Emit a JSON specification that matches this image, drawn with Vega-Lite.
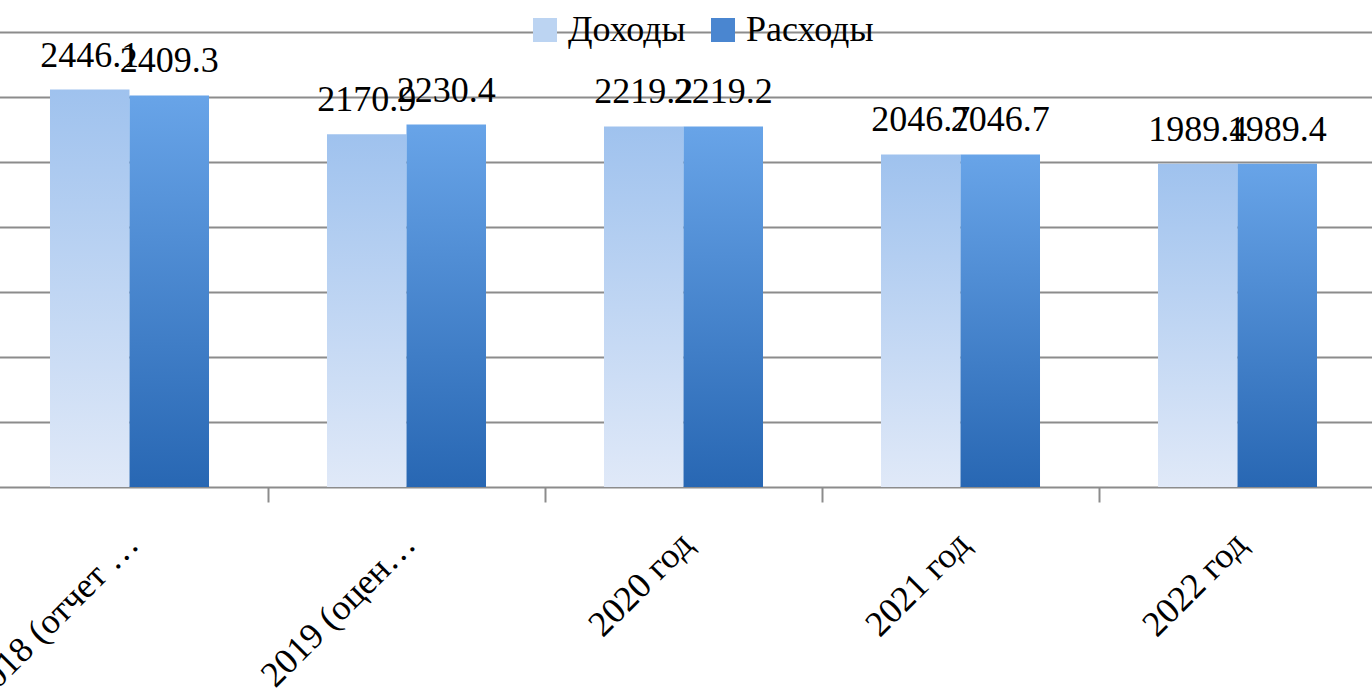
{
  "$schema": "https://vega.github.io/schema/vega-lite/v6.json",
  "autosize": {"type": "none"},
  "width": 1385,
  "height": 455,
  "padding": {"left": -9, "top": 32, "right": -4, "bottom": 206},
  "background": "white",
  "config": {
    "view": {"stroke": null},
    "font": "Liberation Serif"
  },
  "data": {
    "values": [
      {"cat": "2018 (отчет …", "series": "Доходы", "value": 2446.1},
      {"cat": "2018 (отчет …", "series": "Расходы", "value": 2409.3},
      {"cat": "2019  (оцен…", "series": "Доходы", "value": 2170.9},
      {"cat": "2019  (оцен…", "series": "Расходы", "value": 2230.4},
      {"cat": "2020 год", "series": "Доходы", "value": 2219.2},
      {"cat": "2020 год", "series": "Расходы", "value": 2219.2},
      {"cat": "2021 год", "series": "Доходы", "value": 2046.7},
      {"cat": "2021 год", "series": "Расходы", "value": 2046.7},
      {"cat": "2022 год", "series": "Доходы", "value": 1989.4},
      {"cat": "2022 год", "series": "Расходы", "value": 1989.4}
    ]
  },
  "encoding": {
    "x": {
      "field": "cat",
      "type": "nominal",
      "sort": null,
      "scale": {"paddingInner": 0, "paddingOuter": 0},
      "axis": {
        "title": null,
        "tickBand": "extent",
        "labelAngle": -45,
        "labelAlign": "right",
        "labelBaseline": "top",
        "labelFont": "Liberation Serif",
        "labelFontSize": 36,
        "labelColor": "black",
        "labelLimit": 600,
        "labelOverlap": false,
        "labelPadding": 24,
        "labelOffset": -9,
        "tickSize": 15,
        "tickColor": "#8c8c8c",
        "tickWidth": 2,
        "domainColor": "#8c8c8c",
        "domainWidth": 2,
        "grid": false
      }
    },
    "xOffset": {
      "field": "series",
      "type": "nominal",
      "sort": ["Доходы", "Расходы"],
      "scale": {"paddingInner": 0, "paddingOuter": 0.742}
    },
    "y": {
      "field": "value",
      "type": "quantitative",
      "scale": {"domain": [0, 2800], "nice": false, "zero": true},
      "axis": {
        "title": null,
        "labels": false,
        "ticks": false,
        "domain": false,
        "values": [400, 800, 1200, 1600, 2000, 2400, 2800],
        "gridColor": "#8c8c8c",
        "gridWidth": 2
      }
    }
  },
  "layer": [
    {
      "transform": [{"filter": "datum.series === 'Доходы'"}],
      "mark": {
        "type": "bar",
        "color": {"gradient": "linear", "x1": 0, "y1": 0, "x2": 0, "y2": 1, "stops": [{"offset": 0, "color": "#9fc2ee"}, {"offset": 1, "color": "#e0e9f8"}]}
      }
    },
    {
      "transform": [{"filter": "datum.series === 'Расходы'"}],
      "mark": {
        "type": "bar",
        "color": {"gradient": "linear", "x1": 0, "y1": 0, "x2": 0, "y2": 1, "stops": [{"offset": 0, "color": "#68a4e8"}, {"offset": 1, "color": "#2867b3"}]}
      }
    },
    {
      "mark": {"type": "bar"},
      "encoding": {
        "y": {"datum": 0},
        "y2": {"datum": 0},
        "color": {
          "field": "series",
          "type": "nominal",
          "sort": ["Доходы", "Расходы"],
          "scale": {"domain": ["Доходы", "Расходы"], "range": ["#bcd4f2", "#4a86d0"]},
          "legend": {
            "title": null,
            "orient": "none",
            "direction": "horizontal",
            "legendX": 536,
            "legendY": -20,
            "padding": 0,
            "symbolType": "square",
            "symbolSize": 576,
            "symbolStrokeWidth": 0,
            "labelFont": "Liberation Serif",
            "labelFontSize": 36,
            "labelColor": "black",
            "labelOffset": 5,
            "labelLimit": 400,
            "columnPadding": 19,
            "encode": {
              "symbols": {
                "update": {
                  "fill": {"signal": "datum.value === 'Доходы' ? {gradient: 'linear', x1: 0, y1: 0, x2: 0, y2: 1, stops: [{offset: 0, color: '#9fc2ee'}, {offset: 1, color: '#e0e9f8'}]} : {gradient: 'linear', x1: 0, y1: 0, x2: 0, y2: 1, stops: [{offset: 0, color: '#68a4e8'}, {offset: 1, color: '#2867b3'}]}"}
                }
              }
            }
          }
        }
      }
    },
    {
      "mark": {"type": "text", "baseline": "alphabetic", "dy": -23, "fontSize": 36, "font": "Liberation Serif", "color": "black"},
      "encoding": {
        "text": {"field": "value", "type": "quantitative", "format": ".1f"}
      }
    }
  ]
}
